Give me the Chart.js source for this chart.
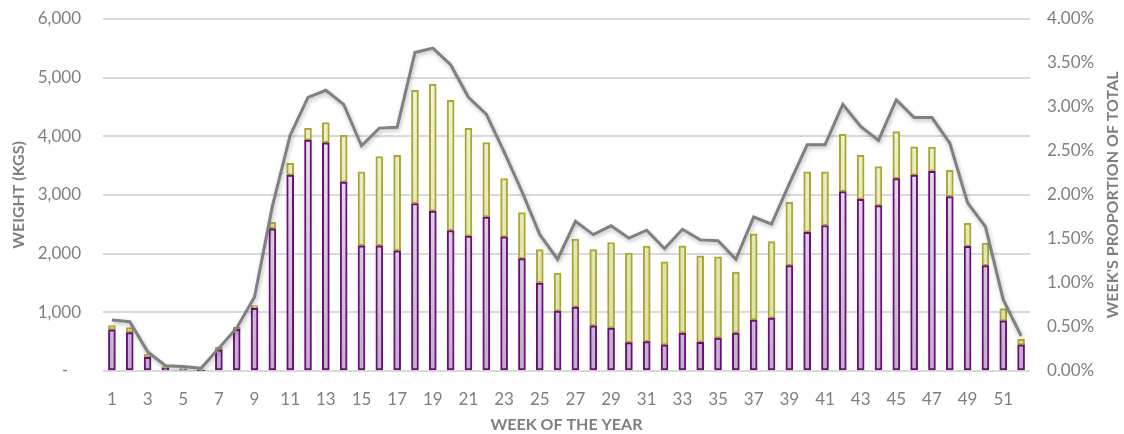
<!DOCTYPE html>
<html>
<head>
<meta charset="utf-8">
<script src="https://cdn.jsdelivr.net/npm/chart.js@4.4.1/dist/chart.umd.min.js"></script>
<style>
  html, body { margin: 0; padding: 0; background: #ffffff; }
  #caixa { width: 1124px; height: 434px; }
</style>
</head>
<body>
<div id="caixa"><canvas id="grafico" width="1124" height="434"></canvas></div>
<script>
// dados
const semanas = [];
for (let i = 1; i <= 52; i++) semanas.push(String(i));

// parte de baixo (roxa), kg
const pesoRoxo = [700, 655, 235, 45, 25, 5, 360, 710, 1070, 2425,
  3340, 3935, 3890, 3220, 2135, 2135, 2050, 2855, 2725, 2395,
  2300, 2625, 2285, 1915, 1500, 1020, 1090, 770, 730, 485,
  500, 445, 645, 490, 560, 645, 870, 900, 1795, 2365,
  2480, 3060, 2925, 2820, 3280, 3340, 3405, 2975, 2125, 1795,
  855, 445];

// parte de cima (amarela), kg
const pesoAmarelo = [75, 85, 55, 30, 15, 10, 45, 40, 45, 115,
  200, 200, 345, 795, 1260, 1520, 1625, 1930, 2160, 2220,
  1835, 1270, 995, 785, 570, 650, 1160, 1300, 1460, 1525,
  1630, 1415, 1490, 1475, 1385, 1040, 1470, 1305, 1080, 1030,
  915, 975, 750, 665, 800, 480, 410, 445, 390, 385,
  210, 95];

// proporcao da semana no total (%)
const proporcao = [0.58, 0.56, 0.22, 0.06, 0.05, 0.03, 0.26, 0.49, 0.84, 1.87,
  2.68, 3.11, 3.19, 3.03, 2.56, 2.76, 2.77, 3.62, 3.67, 3.48,
  3.11, 2.92, 2.49, 2.04, 1.55, 1.27, 1.70, 1.55, 1.65, 1.51,
  1.60, 1.39, 1.61, 1.49, 1.48, 1.27, 1.75, 1.67, 2.13, 2.57,
  2.57, 3.03, 2.78, 2.62, 3.08, 2.88, 2.88, 2.59, 1.91, 1.64,
  0.81, 0.40];

const cinza = '#7f7f7f';
const fonte = 'Lato';

function gradiente(context, cimaCor, baixoCor) {
  const area = context.chart.chartArea;
  if (!area) return baixoCor;
  const g = context.chart.ctx.createLinearGradient(0, area.top, 0, area.bottom);
  g.addColorStop(0, cimaCor);
  g.addColorStop(1, baixoCor);
  return g;
}

// sombra da linha
const sombraLinha = {
  id: 'sombraLinha',
  beforeDatasetDraw(chart, args) {
    if (args.meta.type !== 'line') return;
    const ctx = chart.ctx;
    ctx.save();
    ctx.shadowColor = 'rgba(0,0,0,0.28)';
    ctx.shadowBlur = 4;
    ctx.shadowOffsetX = 1;
    ctx.shadowOffsetY = 2;
  },
  afterDatasetDraw(chart, args) {
    if (args.meta.type !== 'line') return;
    chart.ctx.restore();
  }
};

// titulo do eixo da direita, lido de baixo para cima
const tituloDireita = {
  id: 'tituloDireita',
  afterDraw(chart) {
    const ctx = chart.ctx;
    const a = chart.chartArea;
    ctx.save();
    ctx.translate(1113, (a.top + a.bottom) / 2);
    ctx.rotate(-Math.PI / 2);
    ctx.font = 'bold 16px ' + fonte;
    ctx.fillStyle = cinza;
    ctx.textAlign = 'center';
    ctx.textBaseline = 'middle';
    ctx.fillText("WEEK'S PROPORTION OF TOTAL", 0, 0);
    ctx.restore();
  }
};

// os eixos verticais nao devem empurrar a area do grafico
function larguraFixa(largura) {
  return s => {
    s.width = largura;
    s.paddingTop = 0;
    s.paddingBottom = 0;
  };
}

const ctx = document.getElementById('grafico').getContext('2d');
const grafico = new Chart(ctx, {
  data: {
    labels: semanas,
    datasets: [
      {
        type: 'line',
        label: 'Proporção',
        data: proporcao,
        yAxisID: 'y1',
        borderColor: '#808080',
        borderWidth: 3,
        pointRadius: 0,
        tension: 0,
        order: 0
      },
      {
        type: 'bar',
        label: 'Roxo',
        data: pesoRoxo,
        yAxisID: 'y',
        stack: 'peso',
        backgroundColor: c => gradiente(c, '#ffffff', '#c4acce'),
        borderColor: '#6a0f78',
        borderWidth: 2,
        borderSkipped: false,
        barThickness: 7,
        order: 1
      },
      {
        type: 'bar',
        label: 'Amarelo',
        data: pesoAmarelo,
        yAxisID: 'y',
        stack: 'peso',
        backgroundColor: c => gradiente(c, '#f8f8e6', '#dcdb9c'),
        borderColor: '#aaa833',
        borderWidth: 2,
        borderSkipped: false,
        barThickness: 7,
        order: 1
      }
    ]
  },
  options: {
    responsive: false,
    animation: false,
    layout: { padding: { top: 19, left: 0, right: 0, bottom: 0 } },
    plugins: {
      legend: { display: false },
      tooltip: { enabled: false }
    },
    scales: {
      x: {
        stacked: true,
        grid: { display: false, drawTicks: false },
        border: { display: false },
        ticks: {
          autoSkip: false,
          maxRotation: 0,
          padding: 18,
          color: cinza,
          font: { family: fonte, size: 17 },
          callback: function (v, i) { return i % 2 === 0 ? this.getLabelForValue(v) : ''; }
        },
        title: {
          display: true,
          text: 'WEEK OF THE YEAR',
          color: cinza,
          font: { family: fonte, size: 16, weight: 'bold' },
          padding: { top: 0, bottom: 0 }
        },
        afterFit: s => { s.height = 63; }
      },
      y: {
        stacked: true,
        position: 'left',
        min: 0,
        max: 6000,
        grid: { color: '#d9d9d9', lineWidth: 2, drawTicks: false },
        border: { display: false },
        ticks: {
          stepSize: 1000,
          padding: 22,
          color: cinza,
          font: { family: fonte, size: 17 },
          callback: v => v === 0 ? '-   ' : v.toLocaleString('en-US')
        },
        title: {
          display: true,
          text: 'WEIGHT (KGS)',
          color: cinza,
          font: { family: fonte, size: 16, weight: 'bold' },
          padding: { top: 9, bottom: 0 }
        },
        afterFit: larguraFixa(103)
      },
      y1: {
        position: 'right',
        min: 0,
        max: 4,
        grid: { display: false, drawTicks: false },
        border: { display: false },
        ticks: {
          stepSize: 0.5,
          padding: 17,
          color: cinza,
          font: { family: fonte, size: 17 },
          callback: v => v.toFixed(2) + '%'
        },
        afterFit: larguraFixa(94)
      }
    }
  },
  plugins: [sombraLinha, tituloDireita]
});
</script>
</body>
</html>
